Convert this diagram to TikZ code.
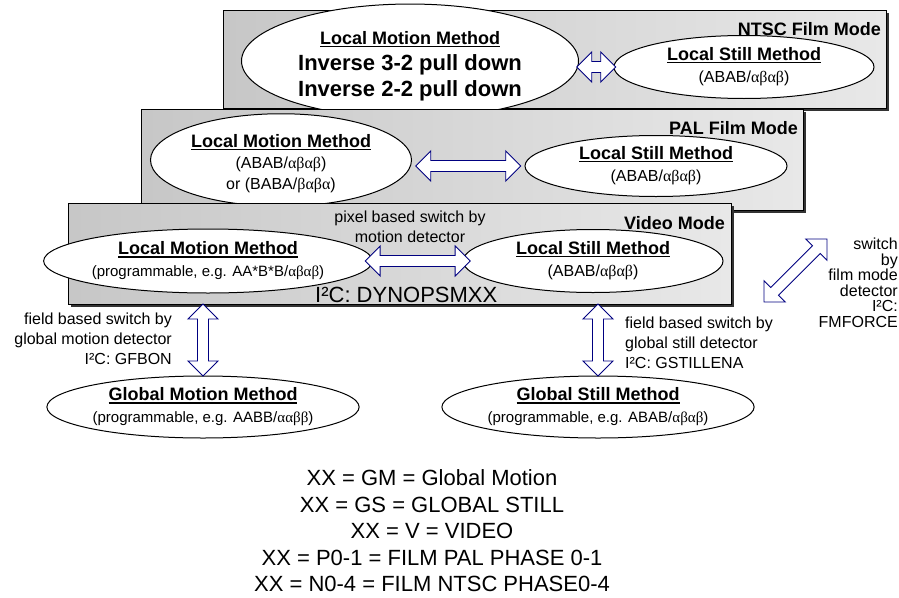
\documentclass[tikz,border=0pt]{standalone}
\usepackage{fontspec}
\setmainfont{Liberation Sans}
\newfontfamily\grk{Liberation Serif}
\usetikzlibrary{shapes.geometric,shapes.arrows,shadows}
\definecolor{navy}{RGB}{0,0,128}
\tikzset{
  modebox/.style={draw, line width=0.8pt, left color=black!22, right color=black!9,
    drop shadow={shadow xshift=3pt, shadow yshift=-3pt, fill=black!80, opacity=1}},
  method/.style={ellipse, draw, fill=white, line width=1pt, inner sep=0pt, align=center,
    font=\fontsize{16}{22}\selectfont},
  fatarrow/.style={double arrow, draw=navy, fill=white, line width=0.9pt, inner sep=5pt,
    double arrow head extend=9.5pt, minimum width=30pt},
  modename/.style={anchor=east, inner sep=0pt, font=\bfseries\fontsize{18}{21}\selectfont},
  remark/.style={inner sep=0pt, font=\fontsize{16}{20}\selectfont},
}
\newcommand{\mtitle}[1]{{\bfseries\fontsize{18}{21}\selectfont\setbox0\hbox{#1}\rlap{\rule[-2.6pt]{\wd0}{1.3pt}}\box0}}
\newcommand{\prog}[1]{{\fontsize{15}{20}\selectfont#1}}
\begin{document}
\begin{tikzpicture}[x=1pt, y=-1pt]
    \useasboundingbox (0,0) rectangle (899,597);
    \node[modebox, minimum width=663pt, minimum height=98pt] (ntsc) at (554.5,59) {};
    \node[modename] (ntscT) at (881,29) {NTSC Film Mode};
    \node[method, minimum width=337pt, minimum height=92pt, font=\bfseries\fontsize{22}{26}\selectfont] (ntscLM) at (410,61)
        {\rule{0pt}{24pt}\mtitle{Local Motion Method}\\Inverse 3-2 pull down\\Inverse 2-2 pull down};
    \node[method, minimum width=260pt, minimum height=63pt] (ntscLS) at (744,67)
        {\mtitle{Local Still Method}\\(ABAB/{\grk αβαβ})};
    \path (ntscLM.east |- ntscLS) -- node[fatarrow, minimum height=39pt] {} (ntscLS.west);

    \node[modebox, minimum width=662pt, minimum height=101pt] (pal) at (472,159.5) {};
    \node[modename] (palT) at (798,128) {PAL Film Mode};
    \node[method, minimum width=261pt, minimum height=77pt, font=\fontsize{16}{21}\selectfont] (palLM) at (281,160)
        {\rule{0pt}{20pt}\mtitle{Local Motion Method}\\(ABAB/{\grk αβαβ})\\or (BABA/{\grk βαβα})};
    \node[method, minimum width=262pt, minimum height=61pt] (palLS) at (656,166)
        {\mtitle{Local Still Method}\\(ABAB/{\grk αβαβ})};
    \path (palLM.east |- palLS) -- node[fatarrow, minimum height=105pt] {} (palLS.west);

    \node[modebox, minimum width=663pt, minimum height=101pt] (vid) at (399.5,253.5) {};
    \node[modename] (vidT) at (725,223) {Video Mode};
    \node[method, minimum width=260pt, minimum height=64pt] (vidLM) at (208,261)
        {\mtitle{Local Motion Method}\\\prog{(programmable, e.g. AA*B*B/{\grk αβαβ})}};
    \node[method, minimum width=260pt, minimum height=63pt] (vidLS) at (593,261)
        {\mtitle{Local Still Method}\\(ABAB/{\grk αβαβ})};
    \path (vidLM.east) -- node[fatarrow, minimum height=105pt] {} (vidLS.west);
    \node[remark, align=center] (pixL) at (410,227) {pixel based switch by\\motion detector};
    \node[anchor=west, inner sep=0pt, font=\fontsize{22}{26}\selectfont] (dynL) at (315,295) {I²C: DYNOPSMXX};

    \node[method, minimum width=260pt, minimum height=62pt] (glbLM) at (203,407)
        {\mtitle{Global Motion Method}\\\prog{(programmable, e.g. AABB/{\grk ααββ})}};
    \node[method, minimum width=260pt, minimum height=62pt] (glbLS) at (598,407)
        {\mtitle{Global Still Method}\\\prog{(programmable, e.g. ABAB/{\grk αβαβ})}};
    \path (vid.south -| glbLM) -- node[fatarrow, rotate=90, minimum height=72pt] {} (glbLM.north);
    \path (vid.south -| glbLS) -- node[fatarrow, rotate=90, minimum height=72pt] {} (glbLS.north);
    \node[remark, align=right, anchor=east] (gmL) at (172,339)
        {field based switch by\\global motion detector\\I²C: GFBON};
    \node[remark, align=left, anchor=west] (gsL) at (625,343)
        {field based switch by\\global still detector\\I²C: GSTILLENA};

    \coordinate (fmA) at (764,302);
    \coordinate (fmB) at (827,239);
    \path (fmA) -- node[fatarrow, sloped, minimum height=89pt] {} (fmB);
    \node[remark, align=right, anchor=east, font=\fontsize{16}{15.5}\selectfont] (fmL) at (898,283)
        {switch\\by\\film mode\\detector\\I²C:\\FMFORCE};

    \node[align=center, font=\fontsize{22}{26.5}\selectfont] (xxL) at (432,531)
        {XX = GM = Global Motion\\XX = GS = GLOBAL STILL\\XX = V = VIDEO\\XX = P0-1 = FILM PAL PHASE 0-1\\XX = N0-4 = FILM NTSC PHASE0-4};
\end{tikzpicture}
\end{document}
